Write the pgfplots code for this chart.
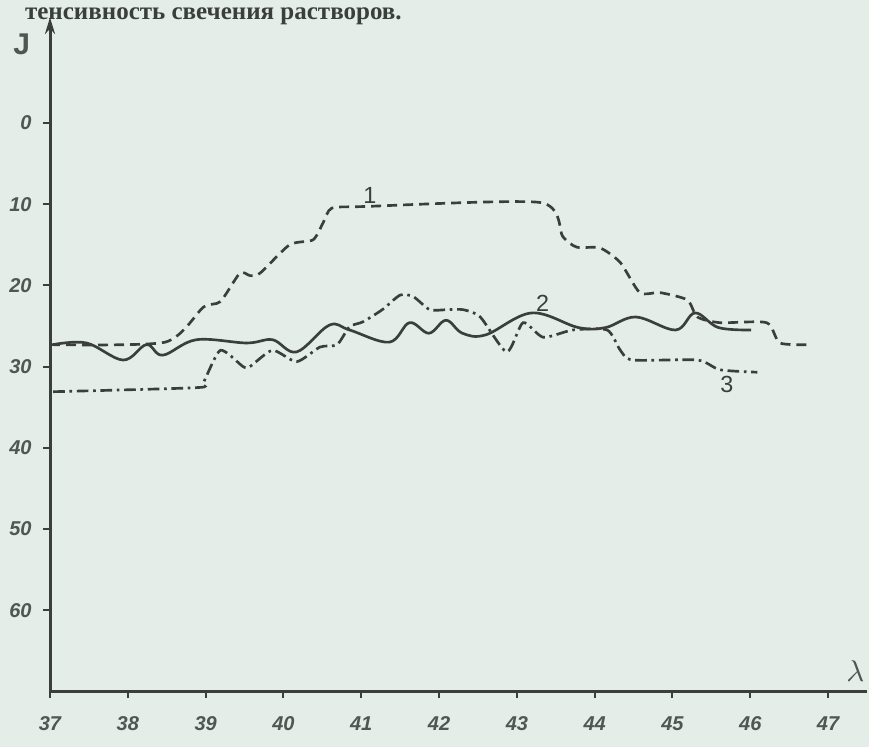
\documentclass[border=0pt]{standalone}
\usepackage{pgfplots}
\pgfplotsset{compat=1.18}
\usepackage{fontspec}
\setmainfont{Liberation Serif}
\setsansfont{Liberation Sans}
\usetikzlibrary{calc,backgrounds,arrows.meta}
\definecolor{bg}{HTML}{E4EDE7}
\definecolor{ink}{HTML}{3A3F3C}
\definecolor{lab}{HTML}{505652}
\begin{document}
\begin{tikzpicture}
\begin{axis}[name=ax, scale only axis, width=245.1pt, height=202.2pt,
  xmin=37, xmax=47.5, ymin=-13, ymax=70, y dir=reverse,
  axis lines=left, axis line style={ink, line width=0.9pt},
  y axis line style={{Stealth[length=5pt,width=3pt]}-},
  x axis line style={-},
  xtick={37,38,...,47}, ytick={0,10,...,60},
  tick align=outside, major tick length=2pt, tick style={ink, line width=0.6pt},
  /pgf/number format/assume math mode=true,
  ticklabel style={font=\fontsize{6}{7}\sffamily\bfseries\itshape, text=lab},
  xticklabel style={yshift=-2pt},
  clip=false]
\addplot[ink, line width=0.8pt, dash pattern=on 3pt off 1.8pt, smooth, tension=0.4] coordinates {
(37.0,27.3) (38.48,27.0) (38.97,22.7) (39.19,22.0) (39.44,18.5) (39.57,18.8) (39.70,18.5)
(40.08,15.0) (40.38,14.4) (40.51,12.3) (40.62,10.5) (41.02,10.3) (43.30,9.8) (43.59,14.0)
(43.77,15.3) (44.07,15.4) (44.33,17.2) (44.58,20.9) (44.84,20.9) (45.19,21.8) (45.32,23.9)
(45.61,24.6) (46.21,24.6) (46.38,27.1) (46.77,27.3)};
\addplot[ink, line width=0.8pt, smooth, tension=0.6] coordinates {
(37.04,27.3) (37.47,27.1) (37.94,29.2) (38.24,27.3) (38.45,28.6) (38.88,26.7) (39.53,27.1)
(39.86,26.7) (40.17,28.2) (40.59,24.9) (40.85,25.5) (41.36,27.0) (41.62,24.6) (41.87,25.9)
(42.09,24.3) (42.30,25.9) (42.60,26.1) (43.19,23.4) (43.79,25.2) (44.14,25.2) (44.53,23.9)
(45.04,25.5) (45.29,23.4) (45.59,25.2) (46.01,25.5)};
\addplot[ink, line width=0.8pt, dash pattern=on 3.5pt off 1.4pt on 0.8pt off 1.4pt, smooth, tension=0.4] coordinates {
(37.04,33.1) (38.88,32.6) (38.97,32.0) (39.19,28.0) (39.48,30.0) (39.57,30.0) (39.86,28.0)
(40.17,29.4) (40.47,27.6) (40.69,27.3) (40.85,25.1) (41.02,24.5) (41.27,23.0) (41.50,21.2)
(41.67,21.4) (41.88,23.0) (42.10,23.0) (42.31,23.0) (42.53,23.9) (42.87,28.2) (43.08,24.6)
(43.34,26.4) (43.72,25.5) (44.16,25.5) (44.33,28.0) (44.49,29.2) (45.32,29.2) (45.61,30.4)
(46.09,30.7)};
\node[font=\fontsize{7}{8}\sffamily, text=ink] at (axis cs:41.11,8.9) {1};
\node[font=\fontsize{7}{8}\sffamily, text=ink] at (axis cs:43.33,22.2) {2};
\node[font=\fontsize{7}{8}\sffamily, text=ink] at (axis cs:45.70,32.2) {3};
\end{axis}
\node[font=\fontsize{9}{10}\sffamily, text=lab] at ($(ax.south east)+(-3.5pt,6pt)$) {$\lambda$};
\node[font=\fontsize{9}{10}\sffamily\bfseries, text=lab] at ($(ax.north west)+(-8.5pt,-8pt)$) {J};
\node[anchor=base west, font=\fontsize{7.5}{8}\bfseries, text=ink] at ($(ax.north west)+(-11pt,-0.6pt)$) {тенсивность свечения растворов.};
\begin{scope}[on background layer]
\fill[bg] ($(ax.south west)+(-15pt,-16.8pt)$) rectangle ($(ax.north east)+(0.6pt,5.2pt)$);
\end{scope}
\pgfresetboundingbox
\path[use as bounding box] ($(ax.south west)+(-15pt,-16.8pt)$) rectangle ($(ax.north east)+(0.6pt,5.2pt)$);
\end{tikzpicture}
\end{document}
